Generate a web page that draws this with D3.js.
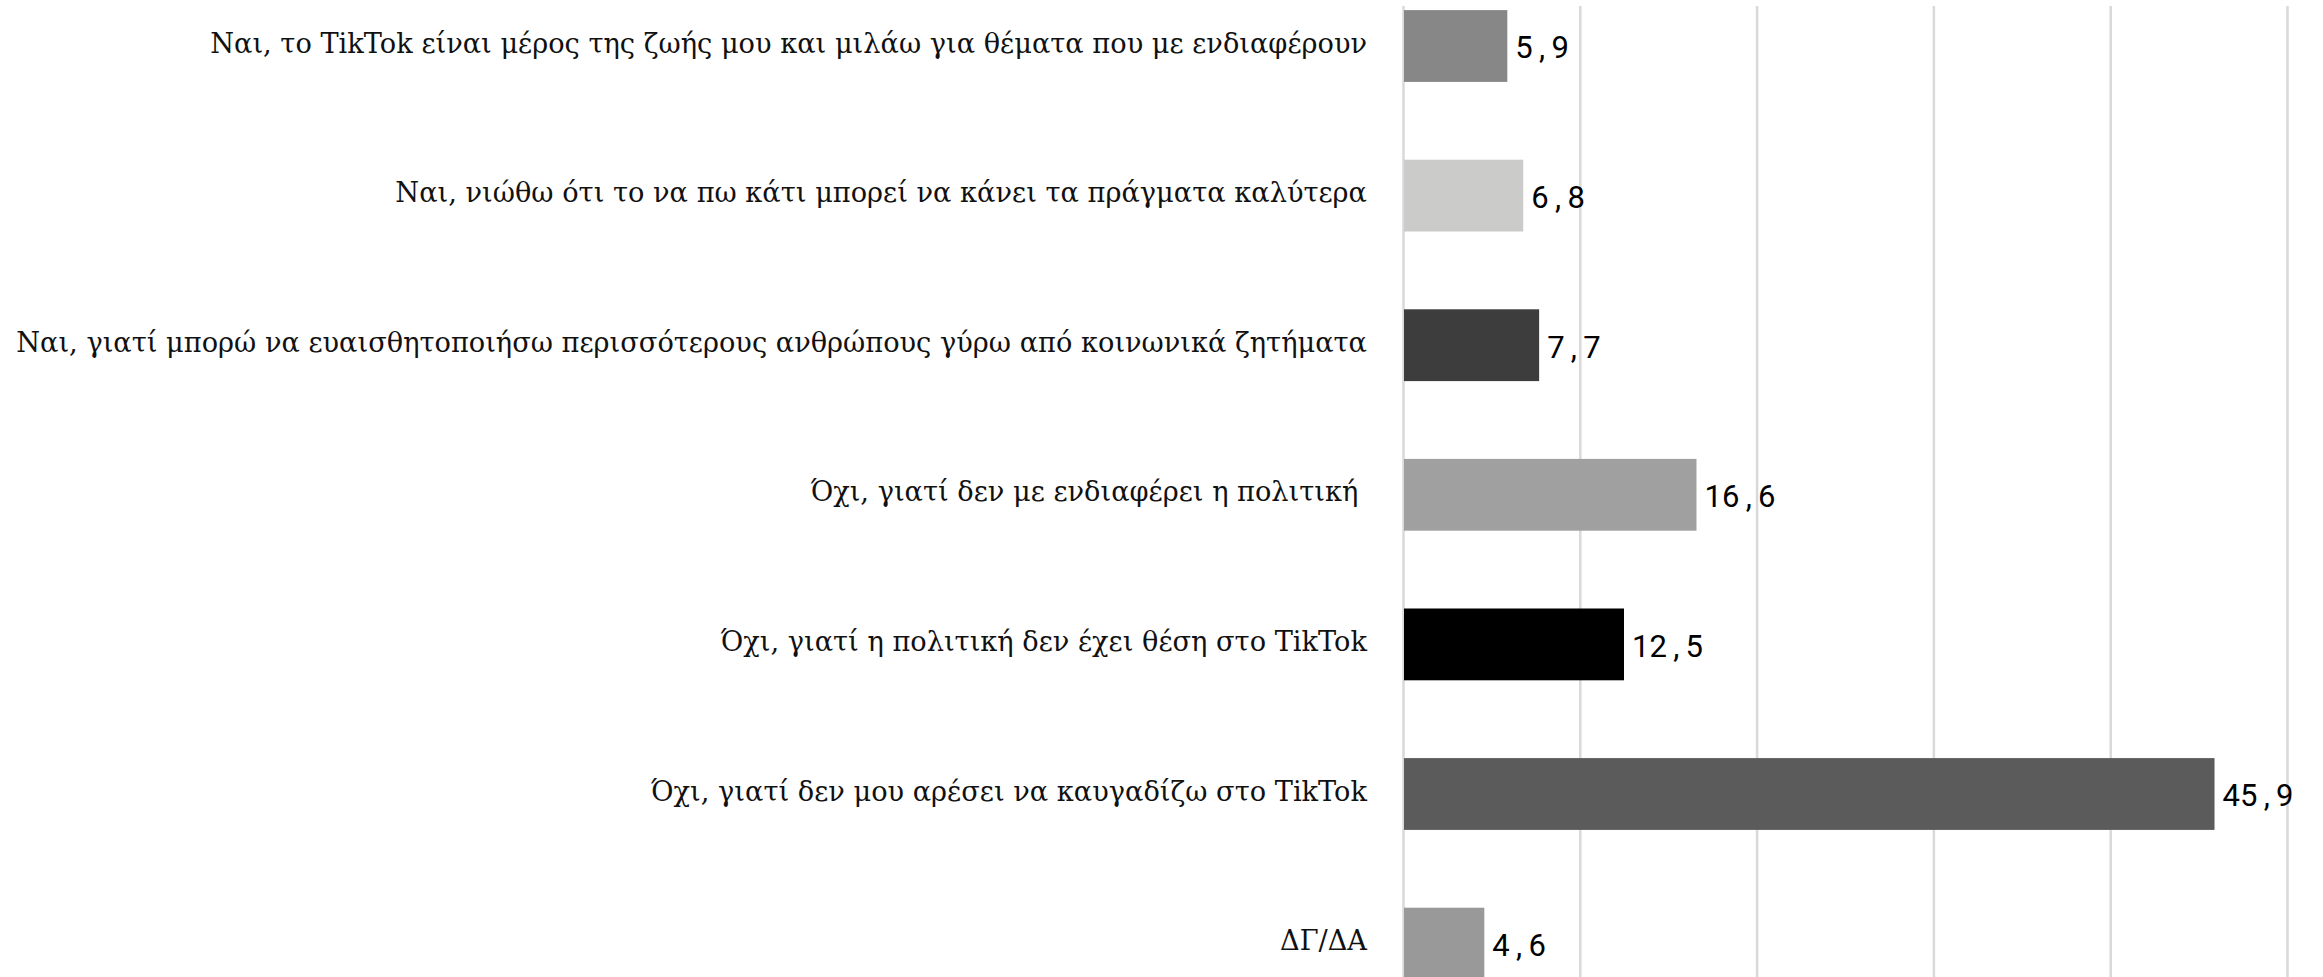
<!DOCTYPE html>
<html>
<head>
<meta charset="utf-8">
<script src="https://cdn.jsdelivr.net/npm/d3@7"></script>
<style>
  html, body { margin: 0; padding: 0; background: #fff; overflow: hidden; }
  svg { display: block; }
</style>
</head>
<body>
<svg id="chart" width="2323" height="977"></svg>
<script>
const categories = [
  "Ναι, το TikTok είναι μέρος της ζωής μου και μιλάω για θέματα που με ενδιαφέρουν",
  "Ναι, νιώθω ότι το να πω κάτι μπορεί να κάνει τα πράγματα καλύτερα",
  "Ναι, γιατί μπορώ να ευαισθητοποιήσω περισσότερους ανθρώπους γύρω από κοινωνικά ζητήματα",
  "Όχι, γιατί δεν με ενδιαφέρει η πολιτική ",
  "Όχι, γιατί η πολιτική δεν έχει θέση στο TikTok",
  "Όχι, γιατί δεν μου αρέσει να καυγαδίζω στο TikTok",
  "ΔΓ/ΔΑ"
];
const values = [5.9, 6.8, 7.7, 16.6, 12.5, 45.9, 4.6];
const colors = ["#878787", "#cbcbca", "#3d3d3d", "#a0a0a0", "#000000", "#5b5b5b", "#999999"];
const xTicks = [0, 10, 20, 30, 40, 50];

const svg = d3.select("#chart");
const x = d3.scaleLinear().domain([0, 50]).range([1403, 2287]);
const step = 149.6;
const y = d3.scaleBand()
  .domain(categories)
  .range([46 - step / 2, 46 - step / 2 + step * 7])
  .paddingInner(0.52)
  .paddingOuter(0.26);

// grid
const grid = d3.axisBottom(x).tickValues(xTicks).tickSize(-(977 - 6)).tickFormat("");
const g = svg.append("g").attr("transform", "translate(0,977)").call(grid);
g.select(".domain").remove();
g.selectAll(".tick line").attr("stroke", "#d9d9d9").attr("stroke-width", 2.5);

// bars
svg.selectAll("rect.bar").data(values).join("rect")
  .attr("class", "bar")
  .attr("x", x(0) + 1)
  .attr("y", (d, i) => y(categories[i]))
  .attr("width", d => x(d) - x(0) - 1)
  .attr("height", y.bandwidth())
  .attr("fill", (d, i) => colors[i]);

// category labels
const labelFont = "'DejaVu Serif', 'Liberation Serif', serif";
const labels = svg.selectAll("text.cat").data(categories).join("text")
  .attr("class", "cat")
  .attr("x", 1367)
  .attr("text-anchor", "end")
  .style("white-space", "pre")
  .attr("font-family", labelFont)
  .attr("font-size", 28)
  .attr("fill", "#111")
  .text(d => d);
// fit longest label to the reference width
let maxW = 0;
labels.each(function () { maxW = Math.max(maxW, this.getComputedTextLength()); });
const fs = 28 * 1351 / maxW;
labels.attr("font-size", fs)
  .attr("y", d => y(d) + y.bandwidth() / 2 + 0.24 * fs);

// value labels
const vfs = 31;
svg.selectAll("text.val").data(values).join("text")
  .attr("class", "val")
  .attr("x", d => x(d) + 8)
  .attr("y", (d, i) => y(categories[i]) + y.bandwidth() / 2 + 0.4 * vfs)
  .attr("font-family", "Roboto, 'Noto Sans', sans-serif")
  .attr("font-size", vfs)
  .attr("fill", "#000")
  .style("white-space", "pre")
  .text(d => d3.format(".1f")(d).replace(".", "\u2009,\u2009"));
</script>
</body>
</html>
